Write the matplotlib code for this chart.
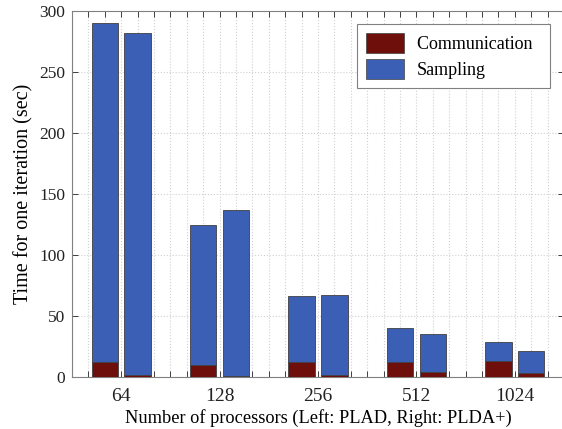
import numpy as np
import matplotlib.pyplot as plt
from matplotlib.patches import Patch

plt.rcParams['font.family'] = ['Liberation Serif', 'DejaVu Serif']

procs = ['64', '128', '256', '512', '1024']
# left bar of each pair: PLAD, right bar: PLDA+
plad_total = [290, 125, 66.5, 40.5, 28.5]
plad_comm = [12.5, 10, 12.5, 12.5, 13.5]
pldap_total = [282, 136.5, 67, 35, 21.5]
pldap_comm = [1.5, 1, 1.5, 3.8, 3.3]

comm_color = '#6e0f0b'
samp_color = '#3a5fb4'
edge = '#404040'

fig = plt.figure(figsize=(5.62, 4.29), dpi=100)
ax = fig.add_axes([72 / 562, 1 - 377 / 429, 492 / 562, 366 / 429])

centers = np.arange(len(procs)) * 6 + 3
left_x = centers - 1
right_x = centers + 1
w = 1.6

for xs, tot, comm in [(left_x, plad_total, plad_comm), (right_x, pldap_total, pldap_comm)]:
    tot = np.array(tot)
    comm = np.array(comm)
    ax.bar(xs, comm, width=w, color=comm_color, edgecolor=edge, linewidth=0.6, zorder=3)
    ax.bar(xs, tot - comm, bottom=comm, width=w, color=samp_color, edgecolor=edge, linewidth=0.6, zorder=3)

ax.set_xlim(0, 30)
ax.set_ylim(0, 300)
ax.set_yticks(np.arange(0, 301, 50))
ticks = np.arange(0, 31)
ax.set_xticks(ticks)
labels = [''] * len(ticks)
for c, p in zip(centers, procs):
    labels[c] = p
ax.set_xticklabels(labels)
ax.tick_params(direction='in', length=4, width=0.6, top=True, right=True, colors='#222222')
ax.tick_params(axis='y', labelsize=12.5, pad=5)
ax.tick_params(axis='x', labelsize=14, pad=8)

ax.grid(True, linestyle=':', color='#d0d0d0', linewidth=0.8, zorder=0)
for s in ax.spines.values():
    s.set_color('#808080')
    s.set_linewidth(0.8)

ax.set_xlabel('Number of processors (Left: PLAD, Right: PLDA+)', fontsize=13.2, labelpad=3)
ax.set_ylabel('Time for one iteration (sec)', fontsize=14.5, labelpad=4)

handles = [Patch(facecolor=comm_color, edgecolor=edge, linewidth=0.5, label='Communication  '),
           Patch(facecolor=samp_color, edgecolor=edge, linewidth=0.5, label='Sampling')]
leg = ax.legend(handles=handles, loc='upper left', bbox_to_anchor=(285 / 492, 1 - 13 / 366),
                fontsize=13, handlelength=2.1, handleheight=1.3, handletextpad=0.7,
                borderpad=0.5, labelspacing=0.35, borderaxespad=0,
                fancybox=False, framealpha=1, edgecolor='#808080')
leg.get_frame().set_linewidth(0.8)

fig.savefig('out.png', dpi=100)
